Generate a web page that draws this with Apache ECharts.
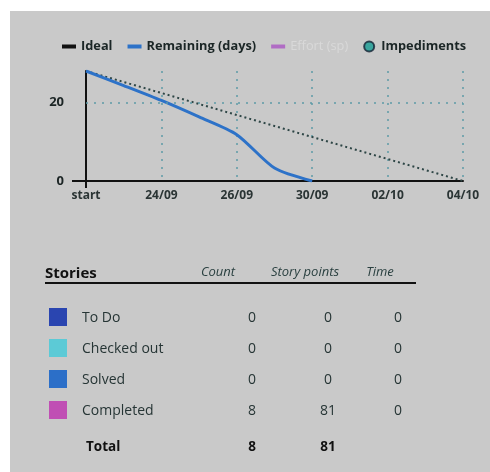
<!DOCTYPE html>
<html>
<head>
<meta charset="utf-8">
<script src="https://cdn.jsdelivr.net/npm/echarts@6/dist/echarts.min.js"></script>
<style>
  body { margin: 0; background: #fff; font-family: "Open Sans", "Noto Sans", sans-serif; }
  #panel { position: absolute; left: 10px; top: 11px; width: 480px; height: 461px; background: #c9c9c9; }
  #chart { position: absolute; left: 0; top: 0; width: 480px; height: 210px; }
  #table { position: absolute; left: 0; top: 0; width: 480px; height: 461px; color: #263535; }
  .t { position: absolute; white-space: nowrap; line-height: 1; transform: translateY(-50%); }
  .sw { position: absolute; width: 18px; height: 18px; }
</style>
</head>
<body>
<div id="panel">
  <div id="chart"></div>
  <div id="table"></div>
</div>
<script>
// working days of the sprint
const days = ['start', '23/09', '24/09', '25/09', '26/09', '29/09', '30/09', '01/10', '02/10', '03/10', '04/10'];
const ideal = [28, 25.2, 22.4, 19.6, 16.8, 14, 11.2, 8.4, 5.6, 2.8, 0];
const remaining = [28, 24.3, 20.5, 16.3, 11.8, 3.3, 0, null, null, null, null];
const effort = [];
const impediments = [];

// stories table
const storyStates = ['To Do', 'Checked out', 'Solved', 'Completed'];
const storyColors = ['#2a45b0', '#5ccad6', '#2c6fc8', '#c04fb4'];
const storyCount = [0, 0, 0, 8];
const storyPoints = [0, 0, 0, 81];
const storyTime = [0, 0, 0, 0];
const totalCount = 8;
const totalPoints = 81;

const FONT = '"Open Sans", "Noto Sans", sans-serif';
const DASH = 'path://M0,0 L14,0 L14,4 L0,4 Z';
const chart = echarts.init(document.getElementById('chart'));
chart.setOption({
  animation: false,
  textStyle: { fontFamily: FONT },
  legend: {
    left: 47, top: 24, itemWidth: 14, itemHeight: 10, itemGap: 15, symbolKeepAspect: true,
    textStyle: { fontSize: 12.8, fontWeight: 'bold', color: '#1b2626' },
    data: [
      { name: 'Ideal', icon: DASH, itemStyle: { color: '#111' } },
      { name: 'Remaining (days)', icon: DASH },
      { name: 'Effort (sp)', icon: DASH, textStyle: { color: '#d9d9d9', fontWeight: 'normal' } },
      { name: 'Impediments', icon: 'circle' }
    ]
  },
  grid: { left: 76, top: 60, right: 27, bottom: 40 },
  xAxis: {
    type: 'category', data: days, boundaryGap: false,
    axisLine: { lineStyle: { color: '#111', width: 2 } },
    axisTick: { show: true, interval: i => i === 0, length: 7, lineStyle: { color: '#111', width: 2 } },
    axisLabel: { interval: 1, color: '#2a3434', fontSize: 12, fontWeight: 'bold', margin: 9 },
    splitLine: { show: true, interval: 1, lineStyle: { color: '#5e9aa6', type: [2, 6], width: 1.5 } }
  },
  yAxis: {
    type: 'value', min: 0, max: 28, interval: 20,
    axisLine: { show: true, lineStyle: { color: '#111', width: 2 } },
    axisTick: { show: true, customValues: [0], length: 14, lineStyle: { color: '#111', width: 2 } },
    axisLabel: { showMaxLabel: false, color: '#1b2424', fontSize: 13, fontWeight: 'bold', margin: 22 },
    splitLine: { show: false }
  },
  series: [
    {
      name: 'Ideal', type: 'line', data: ideal, symbol: 'none', z: 3,
      lineStyle: { color: '#2e4646', width: 2, type: [2, 3] }, itemStyle: { color: '#111' },
      markLine: {
        silent: true, symbol: 'none', label: { show: false },
        lineStyle: { color: '#5e9aa6', type: [2, 6], width: 1.5 },
        data: [{ yAxis: 20 }]
      }
    },
    {
      name: 'Remaining (days)', type: 'line', data: remaining, symbol: 'none', smooth: 0.25, z: 4,
      lineStyle: { color: '#2d72c8', width: 3 }, itemStyle: { color: '#2d72c8' }
    },
    {
      name: 'Effort (sp)', type: 'line', data: effort, symbol: 'none',
      lineStyle: { color: '#b06cc4' }, itemStyle: { color: '#b06cc4' }
    },
    {
      name: 'Impediments', type: 'scatter', data: impediments,
      itemStyle: { color: '#169c94', borderColor: '#123', borderWidth: 2 }
    }
  ]
});

// table drawn as html text
const table = document.getElementById('table');
function put(text, x, y, style, align) {
  const d = document.createElement('div');
  d.className = 't';
  d.textContent = text;
  d.style.top = y + 'px';
  if (align === 'center') {
    d.style.left = (x - 50) + 'px';
    d.style.width = '100px';
    d.style.textAlign = 'center';
  } else {
    d.style.left = x + 'px';
  }
  Object.assign(d.style, style || {});
  table.appendChild(d);
}
const head = { fontStyle: 'italic', fontSize: '13px', color: '#2a4040' };
put('Stories', 35, 261, { fontWeight: 'bold', fontSize: '15px', color: '#111' });
put('Count', 208, 260, head, 'center');
put('Story points', 295, 260, head, 'center');
put('Time', 370, 260, head, 'center');
const line = document.createElement('div');
Object.assign(line.style, { position: 'absolute', left: '35px', top: '271px', width: '371px', height: '2px', background: '#111' });
table.appendChild(line);

const rowY = [306, 337, 368, 399];
const cell = { fontSize: '14px' };
storyStates.forEach((s, i) => {
  const sw = document.createElement('div');
  sw.className = 'sw';
  Object.assign(sw.style, { left: '39px', top: (rowY[i] - 9) + 'px', background: storyColors[i] });
  table.appendChild(sw);
  put(s, 72, rowY[i], cell);
  put(String(storyCount[i]), 242, rowY[i], cell, 'center');
  put(String(storyPoints[i]), 318, rowY[i], cell, 'center');
  put(String(storyTime[i]), 388, rowY[i], cell, 'center');
});
const bold = { fontWeight: 'bold', fontSize: '13.5px', color: '#111' };
put('Total', 76, 436, bold);
put(String(totalCount), 242, 436, bold, 'center');
put(String(totalPoints), 318, 436, bold, 'center');
</script>
</body>
</html>
